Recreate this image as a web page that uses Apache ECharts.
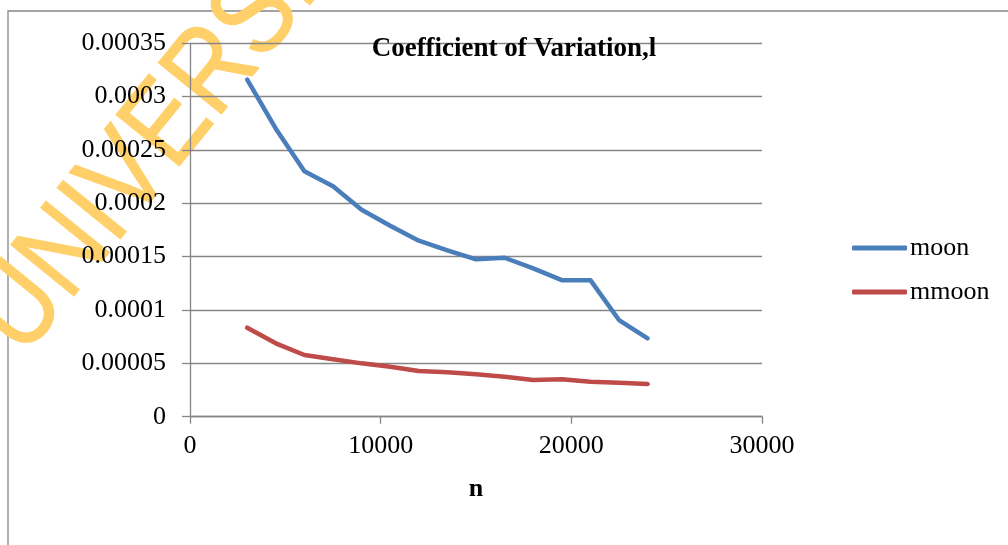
<!DOCTYPE html>
<html>
<head>
<meta charset="utf-8">
<script src="https://cdn.jsdelivr.net/npm/echarts@6/dist/echarts.min.js"></script>
<style>
html,body{margin:0;padding:0;background:#fff;}
#chart{width:1008px;height:545px;}
</style>
</head>
<body>
<div id="chart"></div>
<script>
const nValues = [3000, 4500, 6000, 7500, 9000, 10500, 12000, 13500, 15000, 16500, 18000, 19500, 21000, 22500, 24000];
const moon = [0.000316, 0.000270, 0.000230, 0.000216, 0.000194, 0.000179, 0.000165, 0.000156, 0.0001475, 0.000149, 0.000139, 0.000128, 0.000128, 0.0000906, 0.0000735];
const mmoon = [0.0000834, 0.0000688, 0.0000578, 0.0000538, 0.0000500, 0.0000469, 0.0000428, 0.0000416, 0.0000397, 0.0000375, 0.0000344, 0.0000350, 0.0000328, 0.0000319, 0.0000306];
const yTickLabels = ['0', '0.00005', '0.0001', '0.00015', '0.0002', '0.00025', '0.0003', '0.00035'];
const xTickLabels = ['0', '10000', '20000', '30000'];
const seriesNames = ['moon', 'mmoon'];
const titleText = 'Coefficient of Variation,l';
const xAxisName = 'n';
const watermarkText = 'UNIVERSITY';

const serif = '"Liberation Serif", "Times New Roman", serif';
const gray = '#868686';

const chart = echarts.init(document.getElementById('chart'), null, {renderer: 'canvas'});
chart.setOption({
  backgroundColor: '#ffffff',
  animation: false,
  title: {
    text: titleText,
    left: 509,
    top: 31,
    textAlign: 'center',
    textStyle: {fontFamily: serif, fontWeight: 'bold', fontSize: 27, color: '#000'}
  },
  legend: {
    orient: 'vertical',
    left: 847,
    top: 230,
    itemWidth: 55,
    itemHeight: 5,
    itemGap: 18,
    icon: 'roundRect',
    data: seriesNames,
    textStyle: {fontFamily: serif, fontSize: 26, color: '#000', lineHeight: 26, padding: [0, 0, 0, -2]}
  },
  grid: {left: 190, right: 246, top: 43.3, bottom: 128.3, containLabel: false},
  xAxis: {
    type: 'value',
    min: 0, max: 30000, interval: 10000,
    name: xAxisName,
    nameLocation: 'middle',
    nameGap: 60,
    nameTextStyle: {fontFamily: serif, fontWeight: 'bold', fontSize: 26, color: '#000'},
    axisLine: {show: true, onZero: false, lineStyle: {color: gray, width: 1.3}},
    axisTick: {show: true, length: 7, lineStyle: {color: gray, width: 1.3}},
    splitLine: {show: false},
    axisLabel: {
      fontFamily: serif, fontSize: 26, color: '#000', margin: 16,
      formatter: function (v) { return xTickLabels[Math.round(v / 10000)]; }
    }
  },
  yAxis: {
    type: 'value',
    min: 0, max: 0.00035, interval: 0.00005,
    axisLine: {show: true, lineStyle: {color: gray, width: 1.3}},
    axisTick: {show: true, length: 8, lineStyle: {color: gray, width: 1.3}},
    splitLine: {show: true, lineStyle: {color: gray, width: 1.3}},
    axisLabel: {
      fontFamily: serif, fontSize: 26, color: '#000', margin: 24,
      formatter: function (v) { return yTickLabels[Math.round(v / 0.00005)]; }
    }
  },
  series: [
    {
      name: seriesNames[0], type: 'line', showSymbol: false, symbol: 'none',
      data: nValues.map((n, i) => [n, moon[i]]),
      lineStyle: {color: '#4A7EBB', width: 4.5, cap: 'round', join: 'round'},
      itemStyle: {color: '#4A7EBB'}
    },
    {
      name: seriesNames[1], type: 'line', showSymbol: false, symbol: 'none',
      data: nValues.map((n, i) => [n, mmoon[i]]),
      lineStyle: {color: '#BE4B48', width: 4.5, cap: 'round', join: 'round'},
      itemStyle: {color: '#BE4B48'}
    }
  ],
  graphic: [
    {
      type: 'rect', silent: true, z: -2,
      shape: {x: 8, y: 11, width: 1200, height: 800},
      style: {fill: 'none', stroke: gray, lineWidth: 1.3}
    },
    {
      type: 'text', silent: true, z: -1,
      x: -2, y: 338,
      rotation: 0.89,
      scaleX: 0.85,
      style: {
        text: watermarkText,
        fontFamily: '"Liberation Sans", Arial, sans-serif',
        fontSize: 118,
        fill: '#FFD06A',
        stroke: '#FFD06A',
        lineWidth: 1.2,
        align: 'left',
        verticalAlign: 'middle'
      }
    }
  ]
});
</script>
</body>
</html>
